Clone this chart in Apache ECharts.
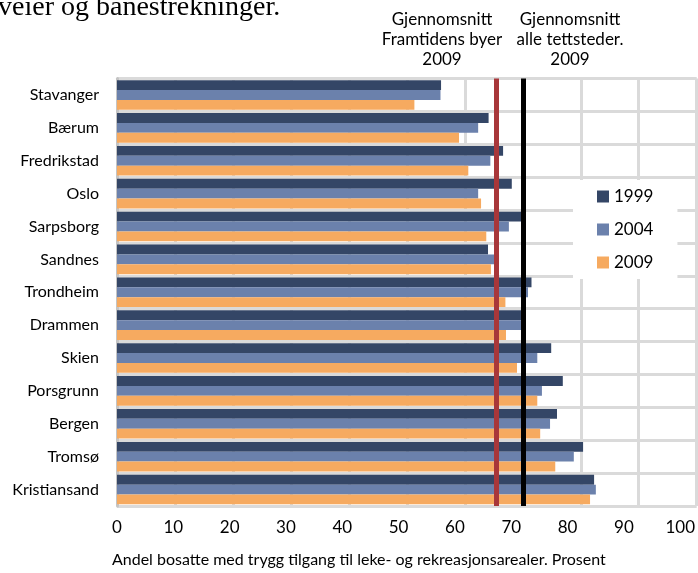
<!DOCTYPE html>
<html>
<head>
<meta charset="utf-8">
<script src="https://cdn.jsdelivr.net/npm/echarts@6/dist/echarts.min.js"></script>
<style>
html,body{margin:0;padding:0;background:#fff;}
#chart{width:698px;height:573px;}
</style>
</head>
<body>
<div id="chart"></div>
<script>
const categories = ['Stavanger','Bærum','Fredrikstad','Oslo','Sarpsborg','Sandnes','Trondheim','Drammen','Skien','Porsgrunn','Bergen','Tromsø','Kristiansand'];
const seriesNames = ['1999','2004','2009'];
const v1999 = [55.9,64.1,66.6,68.1,70.0,64.0,71.5,70.2,74.9,76.9,75.9,80.4,82.3];
const v2004 = [55.8,62.3,64.4,62.3,67.6,65.9,70.9,69.9,72.5,73.3,74.7,78.8,82.6];
const v2009 = [51.3,59.0,60.6,62.8,63.7,64.5,67.0,67.1,69.0,72.5,73.0,75.6,81.6];
const tickValues = [0,10,20,30,40,50,60,70,80,90,100];
const avgFramtidens = 65.4;
const avgAlle = 70.0;
const annotFramtidens = 'Gjennomsnitt\nFramtidens byer\n2009';
const annotAlle = 'Gjennomsnitt\nalle tettsteder.\n2009';
const xTitle = 'Andel bosatte med trygg tilgang til leke- og rekreasjonsarealer. Prosent';
const topText = 'veier og banestrekninger.';

const FONT = 'Lato';
const colors = ['#344666','#6b81ac','#f6aa60'];

const rich = {};
tickValues.forEach((v, k) => {
  rich['t' + k] = {padding: [0, 3.3 * k, 0, 0], fontSize: 17, fontFamily: FONT, color: '#000'};
});

const chart = echarts.init(document.getElementById('chart'), null, {renderer: 'canvas'});
const values = [v1999, v2004, v2009];

chart.setOption({
  animation: false,
  backgroundColor: '#fff',
  grid: {left: 117, right: 0, top: 78.5, bottom: 63, containLabel: false},
  legend: {
    data: seriesNames,
    orient: 'vertical',
    left: 573, top: 180,
    padding: [8, 24, 8, 24],
    backgroundColor: '#fff',
    icon: 'rect',
    itemWidth: 12, itemHeight: 12,
    itemGap: 16,
    itemTextGap: 4,
    textStyle: {fontFamily: FONT, fontSize: 17, color: '#000', lineHeight: 16}
  },
  xAxis: {
    type: 'value', min: 0, max: 100, interval: 10,
    axisLine: {show: false}, axisTick: {show: false},
    splitLine: {show: true, lineStyle: {color: '#dadada', width: 3}},
    axisLabel: {
      margin: 13,
      formatter: (v) => '{t' + tickValues.indexOf(v) + '|' + v + '}',
      rich: rich
    },
    name: xTitle,
    nameLocation: 'middle',
    nameGap: 46,
    nameTextStyle: {fontFamily: FONT, fontSize: 16, color: '#000', padding: [0, 96, 0, 0]}
  },
  yAxis: {
    type: 'category', data: categories, inverse: true,
    axisLine: {show: true, lineStyle: {color: '#c4c4c4', width: 3}},
    axisTick: {show: false},
    splitLine: {show: true, lineStyle: {color: '#dadada', width: 3}},
    axisLabel: {margin: 18, fontFamily: FONT, fontSize: 16, color: '#000'}
  },
  series: seriesNames.map((name, i) => ({
    name: name,
    type: 'bar',
    data: values[i],
    barGap: '0%',
    barCategoryGap: '10%',
    itemStyle: {color: colors[i]},
    markLine: i === 0 ? {
      silent: true,
      symbol: ['none', 'none'],
      label: {show: false},
      data: [
        {xAxis: avgFramtidens, lineStyle: {color: '#a8373a', width: 5, type: 'solid'}},
        {xAxis: avgAlle, lineStyle: {color: '#000', width: 5, type: 'solid'}}
      ]
    } : undefined
  })),
  graphic: [
    {type: 'text', x: 442, y: 40, style: {text: annotFramtidens, font: '17px ' + FONT, fill: '#000', align: 'center', verticalAlign: 'middle', lineHeight: 20}},
    {type: 'text', x: 570, y: 40, style: {text: annotAlle, font: '17px ' + FONT, fill: '#000', align: 'center', verticalAlign: 'middle', lineHeight: 20}},
    {type: 'text', x: -2, y: -6, style: {text: topText, font: '28px "Liberation Serif"', fill: '#000', align: 'left', verticalAlign: 'top'}}
  ]
});
</script>
</body>
</html>
